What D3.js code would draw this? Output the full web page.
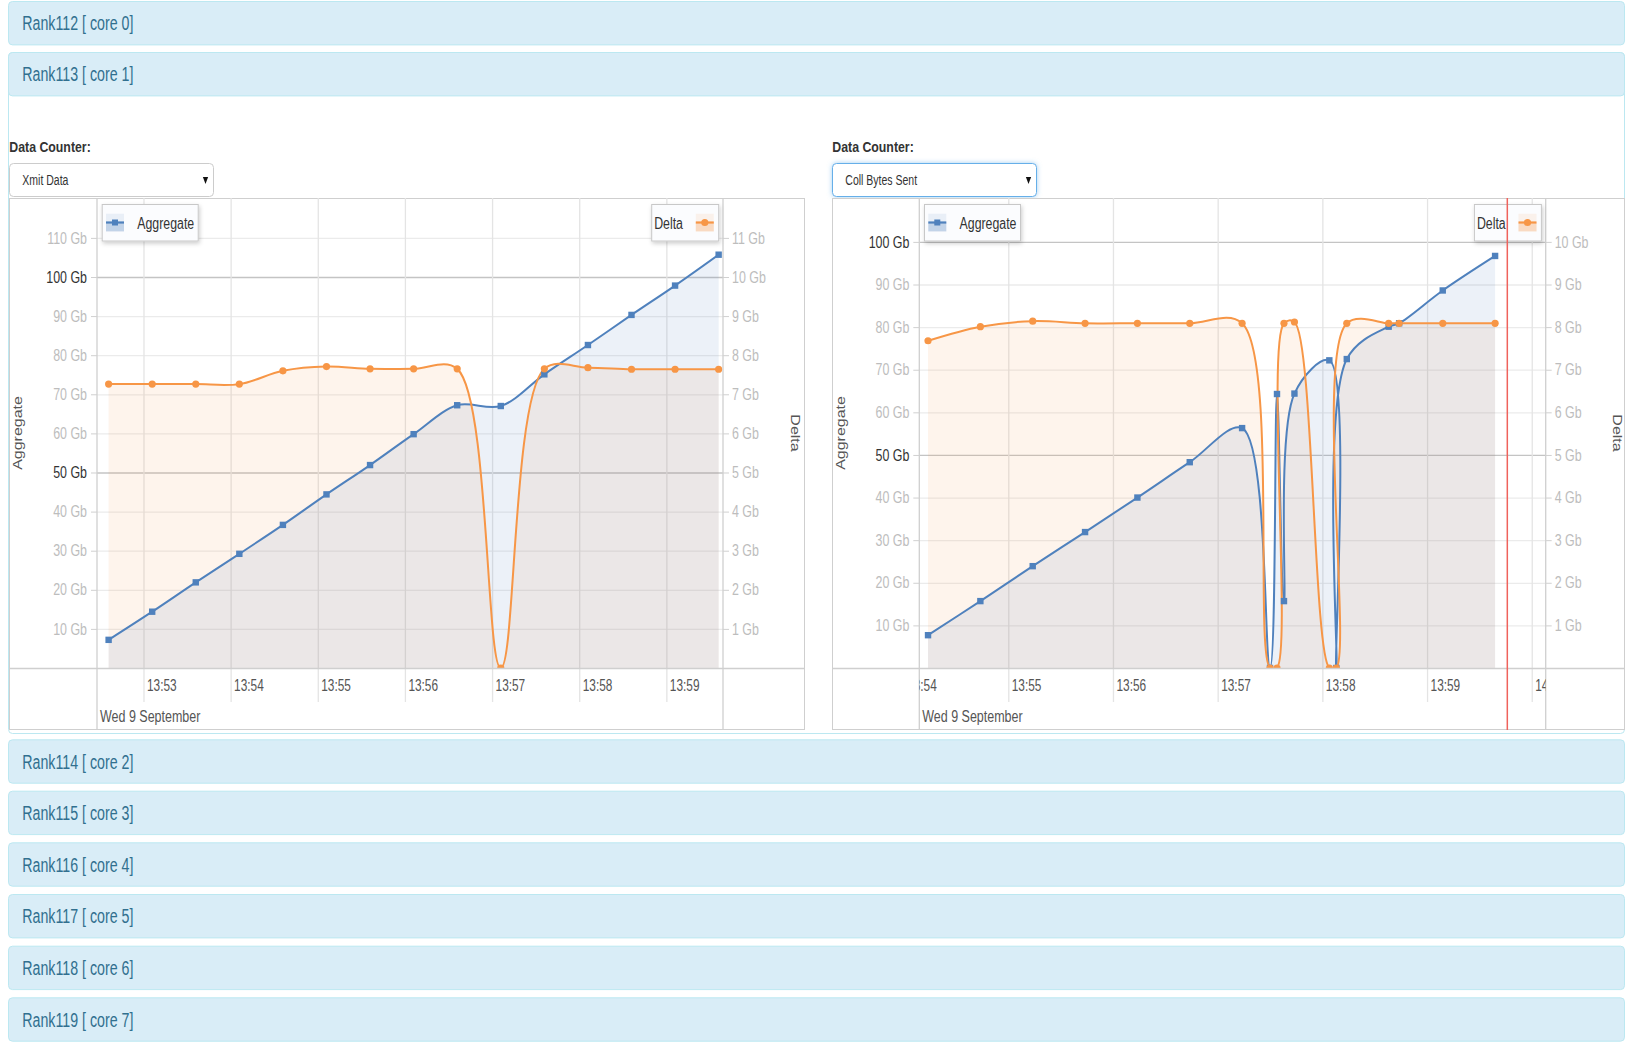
<!DOCTYPE html>
<html><head><meta charset="utf-8">
<script src="https://cdnjs.cloudflare.com/ajax/libs/d3/7.8.5/d3.min.js"></script>
<style>
html,body{margin:0;padding:0;background:#fff;overflow:hidden;}
svg{display:block;font-family:"Liberation Sans",Arial,sans-serif;}
</style></head><body>
<svg id="c" width="1626" height="1043"></svg>
<script>
// ---------------- DATA ----------------
const panelTitles = ["Rank112 [ core 0]","Rank113 [ core 1]","Rank114 [ core 2]","Rank115 [ core 3]","Rank116 [ core 4]","Rank117 [ core 5]","Rank118 [ core 6]","Rank119 [ core 7]"];
const counterLabel = "Data Counter:";
const seriesNames = ["Aggregate","Delta"];
const dateLabel = "Wed 9 September";
const majorAggTicks = [50,100];

const leftCounter = "Xmit Data";
const leftTimes = ["13:52:36","13:53:06","13:53:36","13:54:06","13:54:36","13:55:06","13:55:36","13:56:06","13:56:36","13:57:06","13:57:36","13:58:06","13:58:36","13:59:06","13:59:36"];
const leftAggregate = [7.2,14.4,21.9,29.2,36.6,44.4,51.9,59.8,67.2,67.0,75.1,82.6,90.3,97.8,105.7];
const leftDelta = [7.26,7.26,7.26,7.26,7.60,7.71,7.65,7.65,7.65,0,7.65,7.68,7.64,7.64,7.64];
const leftAggTicks = [10,20,30,40,50,60,70,80,90,100,110];
const leftDeltaTicks = [1,2,3,4,5,6,7,8,9,10,11];
const leftXDomain = ["13:52:28","13:59:39"];
const leftYMax = 120.2;

const rightCounter = "Coll Bytes Sent";
const rightTimes = ["13:54:14","13:54:44","13:55:14","13:55:44","13:56:14","13:56:44","13:57:14","13:57:30","13:57:34","13:57:38","13:57:44","13:58:04","13:58:08","13:58:14","13:58:38","13:58:44","13:59:09","13:59:39"];
const rightAggregate = [7.7,15.7,23.9,31.9,40.0,48.3,56.3,0,64.3,15.7,64.4,72.2,0,72.5,80.1,80.9,88.6,96.7];
const rightDelta = [7.68,8.01,8.14,8.09,8.09,8.09,8.09,0,0,8.09,8.12,0,0,8.09,8.09,8.09,8.09,8.09];
const rightAggTicks = [10,20,30,40,50,60,70,80,90,100];
const rightDeltaTicks = [1,2,3,4,5,6,7,8,9,10];
const rightXDomain = ["13:54:09","14:00:08"];
const rightYMax = 110.3;
const rightMarkerTime = "13:59:46";

// ---------------- SETUP ----------------
const BLUE = "#4f81bd", ORANGE = "#f79646";
const FONT = "'Liberation Sans', Arial, sans-serif";
const parseT = d3.timeParse("%Y-%m-%d %H:%M:%S");
const T = s => parseT("2015-09-09 " + s);
const svg = d3.select("#c");
const defs = svg.append("defs");
const sh = defs.append("filter").attr("id","shadow").attr("x","-20%").attr("y","-30%").attr("width","150%").attr("height","180%");
sh.append("feDropShadow").attr("dx",1).attr("dy",2).attr("stdDeviation",2).attr("flood-color","#000").attr("flood-opacity",0.2);
const gl = defs.append("filter").attr("id","glow").attr("x","-10%").attr("y","-40%").attr("width","120%").attr("height","180%");
gl.append("feDropShadow").attr("dx",0).attr("dy",0).attr("stdDeviation",2.5).attr("flood-color","#66afe9").attr("flood-opacity",0.6);

function squash(sel, f) {
  sel.each(function(){
    const w = this.getComputedTextLength();
    if (w > 0) { this.setAttribute("textLength", (w*f).toFixed(2)); this.setAttribute("lengthAdjust","spacingAndGlyphs"); }
  });
}

// ---------------- PANELS ----------------
const headerTops = [1, 52, 739.3, 790.7, 842.3, 894, 945.7, 997.3];
const headerH = 44.4;
svg.append("rect").attr("x",8.5).attr("y",52.5).attr("width",1616).attr("height",681).attr("rx",4)
  .attr("fill","#fff").attr("stroke","#bce8f1");
headerTops.forEach((t,i)=>{
  svg.append("rect").attr("x",8.5).attr("y",t+0.5).attr("width",1616).attr("height",headerH-1).attr("rx",4)
    .attr("fill","#d9edf7").attr("stroke","#bce8f1");
  svg.append("text").attr("x",22.3).attr("y",t+headerH/2+7).attr("font-size",20).attr("font-family",FONT)
    .attr("fill","#31708f").text(panelTitles[i]).call(squash,0.71);
});

// ---------------- CHARTS ----------------
function drawChart(c) {
  const top=198, bottom=668, boxB=730, gridB=702;
  const g = svg.append("g");
  const x = d3.scaleTime().domain(c.xDomain.map(T)).range([c.px0, c.px1]);
  const yA = d3.scaleLinear().domain([0,c.yMax]).range([bottom, top]);
  const yD = d3.scaleLinear().domain([0,c.yMax/10]).range([bottom, top]);

  // counter label and select
  g.append("text").attr("x",c.bx0+0.3).attr("y",151.5).attr("font-weight","bold").attr("font-size",14)
    .attr("font-family",FONT).attr("fill","#333").text(counterLabel).call(squash,0.88);
  g.append("rect").attr("x",c.bx0+0.5).attr("y",163.5).attr("width",204).attr("height",33).attr("rx",4)
    .attr("fill","#fff").attr("stroke",c.focus?"#66afe9":"#ccc").attr("filter",c.focus?"url(#glow)":null);
  g.append("text").attr("x",c.bx0+13.3).attr("y",185).attr("font-size",14).attr("font-family",FONT)
    .attr("fill","#333").text(c.counter).call(squash,0.75);
  g.append("path").attr("transform",`translate(${c.bx0+196.5},180.5)`).attr("d","M-2.6,-3.5L2.6,-3.5L0,3.5Z").attr("fill","#111");

  // box
  g.append("rect").attr("x",c.bx0+0.5).attr("y",top+0.5).attr("width",c.bx1-c.bx0-1).attr("height",boxB-top-1)
    .attr("fill","#fff").attr("stroke","#cfcfcf");

  const cid = "clip"+c.id, cidX = "clipx"+c.id;
  defs.append("clipPath").attr("id",cid).append("rect").attr("x",c.px0).attr("y",top).attr("width",c.px1-c.px0).attr("height",bottom-top+1);
  defs.append("clipPath").attr("id",cidX).append("rect").attr("x",c.px0).attr("y",top).attr("width",c.px1-c.px0).attr("height",boxB-top);

  // horizontal grid
  const hg = g.append("g").attr("transform",`translate(${c.px0},0)`)
    .call(d3.axisLeft(yA).tickValues(c.aTicks).tickSize(-(c.px1-c.px0)).tickFormat(""));
  hg.select(".domain").remove();
  hg.selectAll(".tick line").attr("stroke", d=> majorAggTicks.includes(d) ? "#c4c4c4" : "#ebebeb").attr("stroke-width",1.3);

  // vertical grid (minutes)
  const minutes = d3.timeMinute.range(d3.timeMinute.floor(x.domain()[0]), d3.timeMinute.offset(x.domain()[1],1));
  const vgo = g.append("g").attr("clip-path",`url(#${cidX})`);
  const vg = vgo.append("g").attr("transform",`translate(0,${top})`)
    .call(d3.axisBottom(x).tickValues(minutes).tickSize(gridB-top).tickFormat(""));
  vg.select(".domain").remove();
  vg.selectAll(".tick line").attr("stroke","#e4e4e4").attr("stroke-width",1.3);

  // series
  const pts = c.times.map((t,i)=>({t:T(t), a:c.agg[i], d:c.delta[i]}));
  const curve = d3.curveCatmullRom.alpha(0.5);
  const sg = g.append("g").attr("clip-path",`url(#${cid})`);
  sg.append("path").datum(pts).attr("d", d3.area().x(p=>x(p.t)).y0(bottom).y1(p=>yD(p.d)).curve(curve))
    .attr("fill",ORANGE).attr("fill-opacity",0.1);
  sg.append("path").datum(pts).attr("d", d3.area().x(p=>x(p.t)).y0(bottom).y1(p=>yA(p.a)).curve(curve))
    .attr("fill",BLUE).attr("fill-opacity",0.11);
  sg.append("path").datum(pts).attr("d", d3.line().x(p=>x(p.t)).y(p=>yA(p.a)).curve(curve))
    .attr("fill","none").attr("stroke",BLUE).attr("stroke-width",2);
  sg.append("path").datum(pts).attr("d", d3.line().x(p=>x(p.t)).y(p=>yD(p.d)).curve(curve))
    .attr("fill","none").attr("stroke",ORANGE).attr("stroke-width",2);
  sg.selectAll("rect.m").data(pts).join("rect").attr("class","m")
    .attr("x",p=>x(p.t)-3.2).attr("y",p=>yA(p.a)-3.2).attr("width",6.4).attr("height",6.4).attr("fill",BLUE);
  sg.selectAll("circle.m").data(pts).join("circle").attr("class","m")
    .attr("cx",p=>x(p.t)).attr("cy",p=>yD(p.d)).attr("r",3.6).attr("fill",ORANGE);

  // axis lines
  g.append("line").attr("x1",c.bx0).attr("x2",c.bx1).attr("y1",bottom+0.5).attr("y2",bottom+0.5).attr("stroke","#cfcfcf").attr("stroke-width",1.3);
  [c.px0, c.px1].forEach(px=> g.append("line").attr("x1",px).attr("x2",px).attr("y1",top).attr("y2",boxB).attr("stroke","#cfcfcf").attr("stroke-width",1.3));

  // left y axis
  const ya = g.append("g").attr("transform",`translate(${c.px0},0)`)
    .call(d3.axisLeft(yA).tickValues(c.aTicks).tickSize(6).tickPadding(4).tickFormat(d=>d+" Gb"));
  ya.select(".domain").remove();
  ya.selectAll(".tick line").attr("stroke","#d0d0d0");
  ya.selectAll(".tick text").attr("font-size",16).attr("font-family",FONT)
    .attr("fill", d=> majorAggTicks.includes(d) ? "#333" : "#bdbdbd").call(squash,0.775);

  // right y axis
  const yr = g.append("g").attr("transform",`translate(${c.px1},0)`)
    .call(d3.axisRight(yD).tickValues(c.dTicks).tickSize(6).tickPadding(3).tickFormat(d=>d+" Gb"));
  yr.select(".domain").remove();
  yr.selectAll(".tick line").attr("stroke","#d0d0d0");
  yr.selectAll(".tick text").attr("font-size",16).attr("font-family",FONT).attr("fill","#bdbdbd").call(squash,0.775);

  // x axis labels
  const xo = g.append("g").attr("clip-path",`url(#${cidX})`);
  const xa = xo.append("g").attr("transform",`translate(0,${bottom})`)
    .call(d3.axisBottom(x).tickValues(minutes).tickSize(0).tickFormat(d3.timeFormat("%H:%M")));
  xa.select(".domain").remove();
  xa.selectAll(".tick text").attr("text-anchor","start").attr("x",3).attr("y",23).attr("dy",0)
    .attr("font-size",16).attr("font-family",FONT).attr("fill","#555").call(squash,0.74);
  g.append("text").attr("x",c.px0+3).attr("y",722).attr("font-size",16).attr("font-family",FONT)
    .attr("fill","#555").text(dateLabel).call(squash,0.78);

  // axis titles
  g.append("text").attr("transform",`translate(${c.bx0+13},433) scale(0.78,1) rotate(-90)`).attr("text-anchor","middle")
    .attr("font-size",16).attr("font-family",FONT).attr("fill","#555").text(seriesNames[0]);
  g.append("text").attr("transform",`translate(${c.px1+67.5},433) scale(0.78,1) rotate(90)`).attr("text-anchor","middle")
    .attr("font-size",16).attr("font-family",FONT).attr("fill","#555").text(seriesNames[1]);

  // legends
  function icon(gx, gy, color, isSquare) {
    const ig = g.append("g").attr("transform",`translate(${gx},${gy})`);
    ig.append("rect").attr("x",0).attr("y",0).attr("width",18).attr("height",17.7).attr("fill",color).attr("fill-opacity",0.1);
    ig.append("rect").attr("x",0).attr("y",8.8).attr("width",18).attr("height",8.9).attr("fill",color).attr("fill-opacity",0.25);
    ig.append("line").attr("x1",0).attr("x2",18).attr("y1",8.8).attr("y2",8.8).attr("stroke",color).attr("stroke-width",2.2);
    if (isSquare) ig.append("rect").attr("x",6).attr("y",5.8).attr("width",6).attr("height",6).attr("fill",color);
    else ig.append("circle").attr("cx",9).attr("cy",8.8).attr("r",3.6).attr("fill",color);
  }
  const lax = c.px0+4.7;
  g.append("rect").attr("x",lax+0.5).attr("y",204.5).attr("width",96).attr("height",36.5)
    .attr("fill","#fbfcfe").attr("stroke","#c8c8c8").attr("filter","url(#shadow)");
  icon(lax+4.3, 213.7, BLUE, true);
  g.append("text").attr("x",lax+35.6).attr("y",228.5).attr("font-size",16).attr("font-family",FONT)
    .attr("fill","#333").text(seriesNames[0]).call(squash,0.77);
  const ldx = c.px1-4.5-67.3;
  g.append("rect").attr("x",ldx+0.5).attr("y",204.5).attr("width",67).attr("height",36.5)
    .attr("fill","#fbfcfe").attr("stroke","#c8c8c8").attr("filter","url(#shadow)");
  icon(ldx+44.6, 213.7, ORANGE, false);
  g.append("text").attr("x",ldx+3).attr("y",228.5).attr("font-size",16).attr("font-family",FONT)
    .attr("fill","#333").text(seriesNames[1]).call(squash,0.77);

  // now marker
  if (c.marker) {
    const mx = x(T(c.marker));
    g.append("line").attr("x1",mx).attr("x2",mx).attr("y1",top).attr("y2",boxB).attr("stroke","#f0625c").attr("stroke-width",1.5);
  }
}

drawChart({id:"L", bx0:9, bx1:805, px0:97, px1:723, counter:leftCounter, focus:false,
  times:leftTimes, agg:leftAggregate, delta:leftDelta, aTicks:leftAggTicks, dTicks:leftDeltaTicks,
  xDomain:leftXDomain, yMax:leftYMax});
drawChart({id:"R", bx0:832, bx1:1625, px0:919.3, px1:1545.7, counter:rightCounter, focus:true,
  times:rightTimes, agg:rightAggregate, delta:rightDelta, aTicks:rightAggTicks, dTicks:rightDeltaTicks,
  xDomain:rightXDomain, yMax:rightYMax, marker:rightMarkerTime});
</script>
</body></html>
